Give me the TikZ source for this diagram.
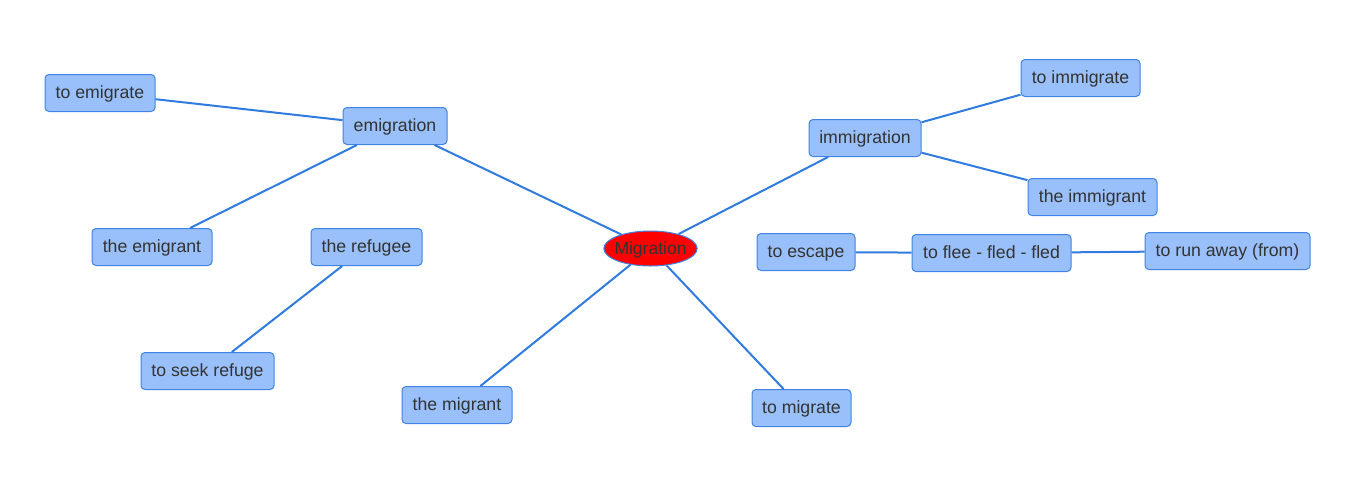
\documentclass[tikz,border=0pt]{standalone}
\usepackage{fontspec}
\setmainfont{Liberation Sans}
\usetikzlibrary{shapes.geometric}
\definecolor{boxfill}{HTML}{99C0FA}
\definecolor{boxline}{HTML}{3F84E5}
\definecolor{edgec}{HTML}{2F7BE0}
\definecolor{txt}{HTML}{333333}
\tikzset{
  term/.style={draw=boxline, line width=1pt, fill=boxfill, rounded corners=4pt,
    minimum height=37pt, inner sep=0pt, text height=12.5pt, text depth=1.5pt,
    text=txt, font=\fontsize{17.7}{20}\selectfont},
  hub/.style={ellipse, draw=boxline, line width=1pt, fill=red, minimum width=93pt,
    minimum height=35pt, inner xsep=-3pt, inner ysep=0pt, text height=12.5pt, text depth=1.5pt,
    text=txt, font=\fontsize{17.5}{20}\selectfont},
  link/.style={draw=edgec, line width=2pt}
}
\begin{document}
\begin{tikzpicture}[x=1pt,y=-1pt]
\useasboundingbox (0,0) rectangle (1352,488);
\node[hub] (mig) at (650.5,248.5) {Migration};
\node[term, minimum width=110pt] (toemig) at (100,93) {to emigrate};
\node[term, minimum width=104pt] (emig) at (395,126) {emigration};
\node[term, minimum width=120pt] (theemig) at (152,247) {the emigrant};
\node[term, minimum width=111pt] (refugee) at (366.5,247) {the refugee};
\node[term, minimum width=133pt] (seek) at (207.5,371) {to seek refuge};
\node[term, minimum width=110pt] (migrant) at (457,405) {the migrant};
\node[term, minimum width=99pt] (tomig) at (801.5,408) {to migrate};
\node[term, minimum width=112pt] (immig) at (865,138) {immigration};
\node[term, minimum width=119pt] (toimmig) at (1080.5,78) {to immigrate};
\node[term, minimum width=129pt] (theimmig) at (1092.5,197) {the immigrant};
\node[term, minimum width=98pt] (escape) at (806,252) {to escape};
\node[term, minimum width=159pt] (flee) at (991.5,253) {to flee - fled - fled};
\node[term, minimum width=165pt] (runaway) at (1227.5,251) {to run away (from)};
\draw[link] (emig) -- (toemig);
\draw[link] (emig) -- (theemig);
\draw[link] (emig) -- (mig);
\draw[link] (refugee) -- (seek);
\draw[link] (mig) -- (migrant);
\draw[link] (mig) -- (tomig);
\draw[link] (mig) -- (immig);
\draw[link] (immig) -- (toimmig);
\draw[link] (immig) -- (theimmig);
\draw[link] (escape) -- (flee);
\draw[link] (flee) -- (runaway);
\end{tikzpicture}
\end{document}
